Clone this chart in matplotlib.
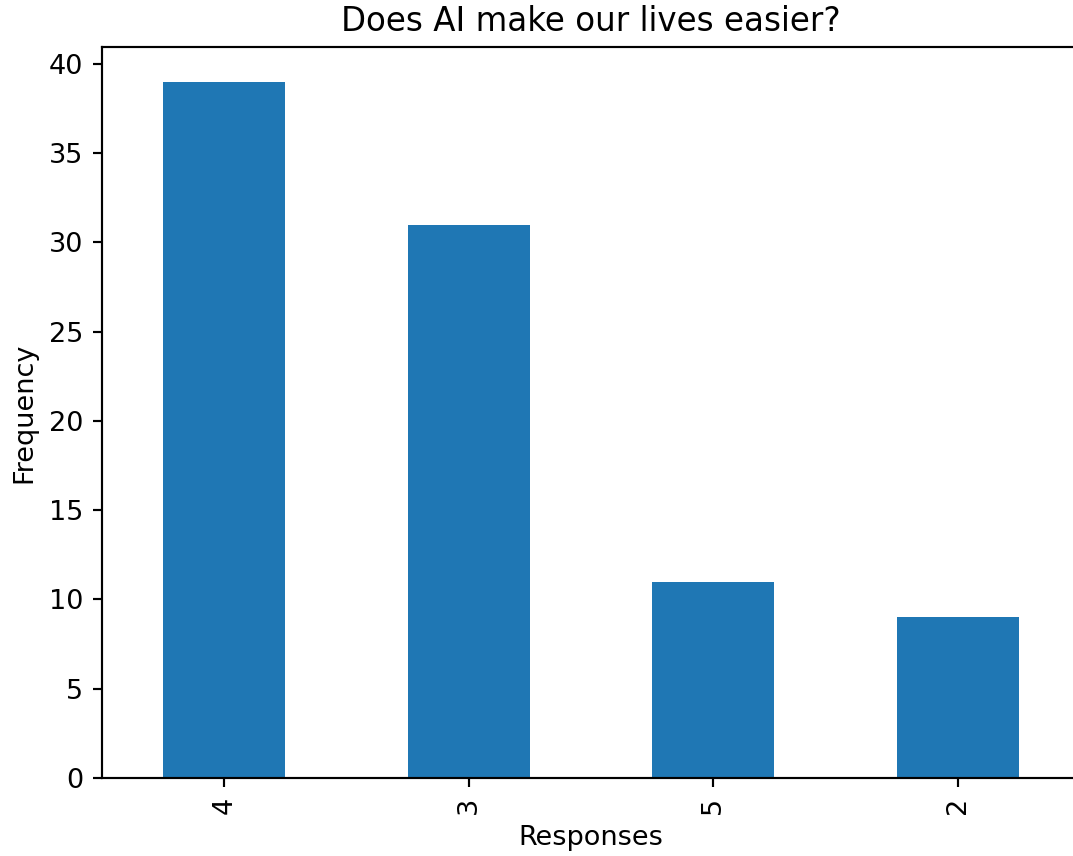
import matplotlib
matplotlib.use("Agg")
import matplotlib.pyplot as plt
import pandas as pd

# survey responses and how often each was chosen
responses = ['4', '3', '5', '2']
counts = [39, 31, 11, 9]

dpi = 195
W, H = 1073, 856
fig = plt.figure(figsize=(W / dpi, H / dpi), dpi=dpi)
# right spine sits just past the image edge in the reference
ax = fig.add_axes([102 / W, 1 - 778 / H, (1080 - 102) / W, (778 - 47) / H])

s = pd.Series(counts, index=responses)
s.plot(kind='bar', ax=ax, color='#1f77b4')

ax.set_title('Does AI make our lives easier?')
ax.set_xlabel('Responses')
ax.set_ylabel('Frequency')

fig.savefig('out.png', dpi=dpi)
